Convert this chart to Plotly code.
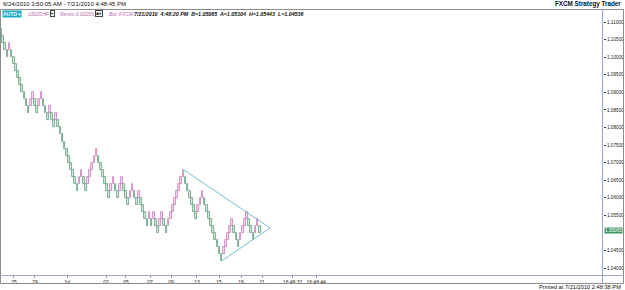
import plotly.graph_objects as go

# ---------------- data ----------------
box_size = 0.002
first_open = 1.108
closes = [
    1.106, 1.104, 1.102, 1.100, 1.104,
    1.100, 1.098, 1.096, 1.094, 1.092, 1.090, 1.088, 1.086, 1.084,
    1.088, 1.090, 1.086, 1.084, 1.088, 1.090, 1.086, 1.084, 1.082,
    1.086, 1.082, 1.080, 1.084,
    1.080, 1.078, 1.076, 1.074, 1.072, 1.070, 1.068, 1.066, 1.064, 1.062,
    1.066, 1.068, 1.064, 1.062,
    1.066, 1.068, 1.070, 1.072, 1.074,
    1.070, 1.068, 1.066, 1.064, 1.062, 1.060,
    1.064, 1.066, 1.062, 1.060, 1.064, 1.066,
    1.062, 1.060, 1.058, 1.062, 1.064, 1.060, 1.058, 1.062,
    1.058, 1.056, 1.054, 1.052, 1.056, 1.052, 1.056, 1.052, 1.050,
    1.054, 1.056, 1.052, 1.050,
    1.054, 1.056, 1.058, 1.060, 1.062, 1.064, 1.066, 1.068,
    1.064, 1.062, 1.060, 1.058, 1.056, 1.054,
    1.058, 1.060, 1.062,
    1.058, 1.056, 1.054, 1.052, 1.050, 1.048, 1.046, 1.044, 1.042,
    1.046, 1.048, 1.050, 1.052, 1.054,
    1.050, 1.048, 1.046,
    1.050, 1.052, 1.054, 1.056,
    1.052, 1.050, 1.048,
    1.052, 1.054,
    1.050,
]
tick_pos = [6.1, 16.0, 31.1, 49.5, 58.9, 70.3, 80.2, 92.4, 102.8, 113.2, 123.1, 137.5, 148.6]
tick_text = ["25", "29", "Jul", "02", "05", "07", "09", "13", "15", "19", "21", "16:48:32", "16:48:44"]
wedge_x = [86, 126.9, 104]
wedge_y = [1.068, 1.0514, 1.042]
price_ticks = [1.04, 1.045, 1.055, 1.06, 1.065, 1.07, 1.075, 1.08,
               1.085, 1.09, 1.095, 1.10, 1.105, 1.11]
last_price = 1.05065

# ---------------- geometry helpers ----------------
W, H = 625, 290
PL, PR, PT, PB = 0, 603, 18, 275  # plot area in px
def px(x):
    return (x - PL) / (PR - PL)
def py(y):
    return (PB - y) / (PB - PT)

FONT = "Liberation Sans, Arial, sans-serif"

prev = [first_open] + closes[:-1]
ups = [c > p for c, p in zip(closes, prev)]
bases = [c - box_size if u else c for c, u in zip(closes, ups)]
fills = ["#f3def0" if u else "#dcebe1" for u in ups]
lines = ["#c77ab9" if u else "#5f9a7d" for u in ups]
idx = list(range(len(closes)))

fig = go.Figure()
fig.add_trace(go.Bar(
    x=idx, y=[box_size] * len(closes), base=bases,
    marker=dict(color=fills, line=dict(color=lines, width=0.8)),
    width=0.78, hoverinfo="skip", showlegend=False,
))
fig.add_trace(go.Scatter(
    x=wedge_x, y=wedge_y, mode="lines",
    line=dict(color="#78bcd2", width=1), hoverinfo="skip", showlegend=False,
))

fig.update_layout(
    width=W, height=H, autosize=False,
    margin=dict(l=PL, r=W - PR, t=PT, b=H - PB, autoexpand=False),
    paper_bgcolor="white", plot_bgcolor="white",
    bargap=0, showlegend=False,
    font=dict(family=FONT, size=5, color="#222222"),
    xaxis=dict(
        range=[-0.5, 283.9], showgrid=False, zeroline=False, automargin=False,
        tickmode="array", tickvals=tick_pos, ticktext=tick_text, tickangle=0,
        ticks="outside", ticklen=2, tickcolor="#8890c0",
        tickfont=dict(size=5, family=FONT, color="#222222"),
        showline=False,
    ),
    yaxis=dict(
        side="right", range=[1.038008, 1.11115], showgrid=False, zeroline=False,
        automargin=False,
        tickmode="array", tickvals=price_ticks, tickformat=".5f",
        ticks="outside", ticklen=2, tickcolor="#333333",
        tickfont=dict(size=4.7, family=FONT, color="#222222"),
        showline=False,
    ),
)

shapes = []
shapes.append(dict(type="rect", xref="paper", yref="paper",
                   x0=px(0.5), x1=px(623.5), y0=py(283.5), y1=py(9.5),
                   line=dict(color="#8c8c8c", width=1)))
shapes.append(dict(type="line", xref="paper", yref="paper",
                   x0=px(0), x1=px(624), y0=py(275.5), y1=py(275.5),
                   line=dict(color="#9aa2cf", width=1)))
shapes.append(dict(type="line", xref="paper", yref="paper",
                   x0=px(602.5), x1=px(602.5), y0=py(283.5), y1=py(9.5),
                   line=dict(color="#9aa2cf", width=1)))
fig.update_layout(shapes=shapes)

def note(text, x, y, anchor="left", size=5, color="#111111", family=FONT, **kw):
    return dict(text=text, xref="paper", yref="paper", x=px(x), y=py(y),
                xanchor=anchor, yanchor="middle", showarrow=False,
                font=dict(family=family, size=size, color=color), **kw)

ann = [
    note("6/24/2010 3:50:05 AM - 7/21/2010 4:48:45 PM", 1, 4.5, size=6),
    note("<b>FXCM Strategy Trader</b>", 623, 4.5, anchor="right", size=6.3),
    note("<b>AUTO</b> ▾", 2, 13.5, size=5, color="#ffffff", bgcolor="#1aa9c6", borderpad=0),
    note("<i>USDCHF</i>", 26, 13.5, color="#b968b0"),
    note("▾", 50, 13.5, size=4.5, color="#222222", family="DejaVu Sans",
         bordercolor="#444444", borderwidth=1, borderpad=0),
    note("<i>Renko 0.00200</i>", 58, 13.5, color="#b968b0"),
    note("▪▾", 95, 13.5, size=4.5, color="#222222", family="DejaVu Sans",
         bordercolor="#444444", borderwidth=1, borderpad=0),
    note("<i>Bid  FXCM</i>", 107, 13.5, color="#b968b0"),
    note("<b><i>7/21/2010  4:48:20 PM  B=1.05065  A=1.05104  H=1.05443  L=1.04536</i></b>", 132, 13.5, size=5.3),
    note("Printed at 7/21/2010 2:48:38 PM", 623, 287, anchor="right", size=5.7),
    dict(text="%.5f" % last_price, xref="paper", yref="y", x=px(604), y=last_price,
         xanchor="left", yanchor="middle", showarrow=False,
         bgcolor="#3f9463", borderpad=0,
         font=dict(family=FONT, size=4.7, color="#ffffff")),
]
fig.update_layout(annotations=ann)

fig.write_html("out.html")
